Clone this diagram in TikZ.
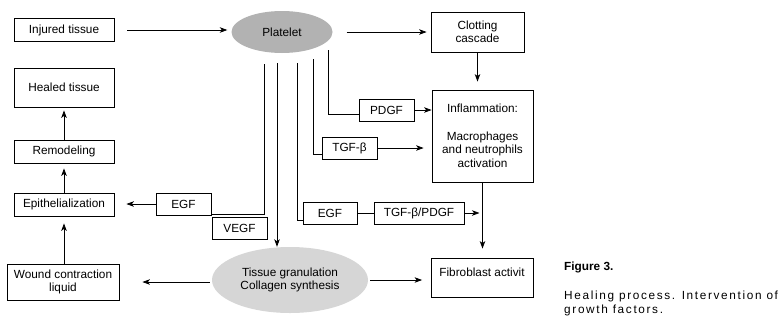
\documentclass[tikz,border=0pt]{standalone}
\usepackage{fontspec}
\setmainfont{Liberation Sans}
\usetikzlibrary{arrows.meta,shapes.geometric}
\definecolor{platgray}{RGB}{178,178,178}
\definecolor{grangray}{RGB}{214,214,214}
\tikzset{
  box/.style={draw, line width=0.8pt, rectangle, inner sep=0pt, align=center,
    font=\fontsize{11.8}{13.5}\selectfont},
  blob/.style={ellipse, inner sep=0pt, align=center,
    font=\fontsize{11.8}{13.5}\selectfont},
  txt/.style={inner sep=0pt, align=center, font=\fontsize{11.8}{13.5}\selectfont},
  ln/.style={line width=0.8pt},
  arr/.style={line width=0.8pt, -{Stealth[length=7.5pt,width=5.5pt,inset=2pt]}},
}
\begin{document}
\begin{tikzpicture}[x=1pt,y=-1pt]
\useasboundingbox (0,0) rectangle (783,317);
% nodes
\node[box, minimum width=100, minimum height=23] (inj) at (64,30) {Injured tissue};
\node[box, minimum width=100, minimum height=39] (heal) at (64,87.5) {Healed tissue};
\node[box, minimum width=100, minimum height=23] (remod) at (64,151.5) {Remodeling};
\node[box, minimum width=100, minimum height=23] (epi) at (64,204.5) {Epithelialization};
\node[box, minimum width=112, minimum height=36] (wound) at (63,282) {Wound contraction\\liquid};
\node[blob, fill=platgray, minimum width=101, minimum height=42] (plat) at (282,32) {Platelet};
\node[box, minimum width=93, minimum height=40] (clot) at (477.5,32) {Clotting\\cascade};
\node[box, minimum width=101, minimum height=92] (infl) at (482.5,136)
  {Inflammation:\\[14pt]Macrophages\\and neutrophils\\activation};
\node[box, minimum width=55, minimum height=22] (pdgf) at (386.5,110) {PDGF};
\node[box, minimum width=55, minimum height=22] (tgfb) at (349.5,148) {TGF-β};
\node[box, minimum width=55, minimum height=22] (egfL) at (183.5,204) {EGF};
\node[box, minimum width=55, minimum height=22] (vegf) at (239.5,228) {VEGF};
\node[box, minimum width=54, minimum height=22] (egfM) at (330,213) {EGF};
\node[box, minimum width=90, minimum height=22] (tp) at (419,213) {TGF-β/PDGF};
\node[blob, fill=grangray, minimum width=156, minimum height=66] (gran) at (290,280)
  {Tissue granulation\\Collagen synthesis};
\node[box, minimum width=102, minimum height=39] (fib) at (482.5,277.5) {};
\node[txt] (fibt) at (482,272) {Fibroblast activit};
% caption
\node[txt, anchor=base west, font=\fontsize{11.8}{13.5}\selectfont\bfseries] (fig) at (564,270) {Figure 3.};
\node[txt, anchor=base west, align=left, font=\fontsize{11.8}{13.5}\selectfont\addfontfeature{LetterSpace=14}] (cap) at (564,313)
  {Healing process. Intervention of\\growth factors.};
% start points of the platelet lines
\coordinate (c1) at (264,64);
\coordinate (c2) at (277,63);
\coordinate (c3) at (297,63);
\coordinate (c4) at (313,59);
\coordinate (c5) at (328,50);
% connectors
\draw[arr, shorten <=13pt, shorten >=4pt] (inj.east) -- (inj.east -| plat.west);
\draw[arr, shorten <=14pt, shorten >=4pt] (plat.east) -- (plat.east -| clot.west);
\draw[arr, shorten >=8pt] (clot.south) -- (clot.south |- infl.north);
\draw[ln] (c5) |- ([yshift=-4pt]pdgf.west);
\draw[arr] (pdgf.east) -- (pdgf.east -| infl.west);
\draw[ln] (c4) |- ([yshift=-6pt]tgfb.west);
\draw[arr, shorten >=8pt] (tgfb.east) -- (tgfb.east -| infl.west);
\draw[ln] (c1) |- ([yshift=-10pt]egfL.east);
\draw[arr, shorten >=12pt] (egfL.west) -- (egfL.west -| epi.east);
\draw[arr] (c2) -- (c2 |- gran.north);
\draw[ln] (c3) |- ([yshift=-7pt]egfM.west);
\draw[ln] (egfM.east) -- (tp.west);
\draw[arr, shorten >=3pt] (tp.east) -- (tp.east -| infl.south);
\draw[arr, shorten >=9pt] (infl.south) -- (fib.north);
\draw[arr, shorten <=2pt, shorten >=23pt] (wound.east -| gran.west) -- (wound.east);
\draw[arr, shorten <=2pt, shorten >=9pt] (gran.east) -- (gran.east -| fib.west);
\draw[arr, shorten >=7pt] (wound.north -| epi.south) -- (epi.south);
\draw[arr, shorten >=5pt] (epi.north) -- (remod.south);
\draw[arr, shorten >=3pt] (remod.north) -- (heal.south);
\end{tikzpicture}
\end{document}
